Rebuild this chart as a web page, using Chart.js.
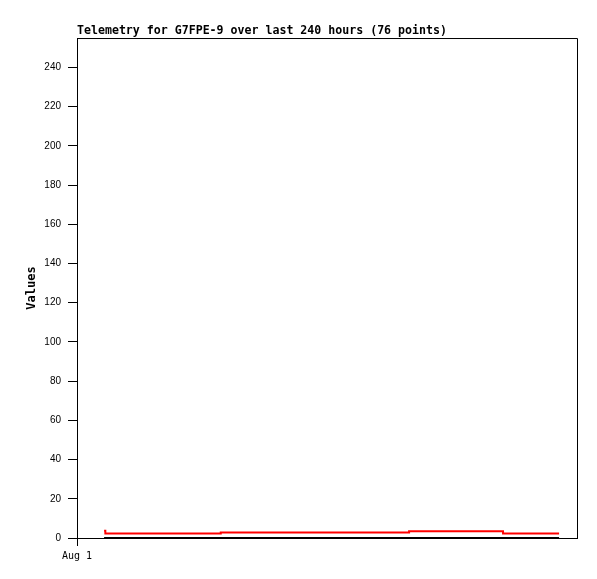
<!DOCTYPE html>
<html>
<head>
<meta charset="utf-8">
<script src="https://cdn.jsdelivr.net/npm/chart.js@4/dist/chart.umd.min.js"></script>
<style>
  html, body { margin: 0; padding: 0; background: #fff; }
  #wrap { width: 597px; height: 579px; }
</style>
</head>
<body>
<div id="wrap"><canvas id="c" width="597" height="579"></canvas></div>
<script>
// Data
const chartTitle = "Telemetry for G7FPE-9 over last 240 hours (76 points)";
const hours = [13, 13.6, 69, 159.4, 204.5, 231.4];
const seriesRed = [3.7, 2.3, 2.8, 3.45, 2.3, 2.3];
const seriesBlack = [0, 0, 0, 0, 0, 0];
const xTickValues = [0];
const xTickLabels = ["Aug 1"];
const yTicks = [0, 20, 40, 60, 80, 100, 120, 140, 160, 180, 200, 220, 240];

const toPoints = (vals) => hours.map((h, i) => ({ x: h, y: vals[i] }));

const framePlugin = {
  id: 'frame',
  afterDraw(chart) {
    const { ctx, chartArea: a } = chart;
    ctx.save();
    ctx.strokeStyle = '#000';
    ctx.lineWidth = 1;
    ctx.beginPath();
    ctx.moveTo(a.left + 0.5, a.top + 0.5);
    ctx.lineTo(a.right + 0.5, a.top + 0.5);
    ctx.lineTo(a.right + 0.5, a.bottom + 0.5);
    ctx.stroke();
    ctx.restore();
  }
};

new Chart(document.getElementById('c'), {
  type: 'line',
  data: {
    datasets: [
      { data: toPoints(seriesBlack), borderColor: '#000', borderWidth: 2, pointRadius: 0, stepped: 'before', order: 2 },
      { data: toPoints(seriesRed), borderColor: '#ff0000', borderWidth: 2, pointRadius: 0, stepped: 'before', order: 1 }
    ]
  },
  plugins: [framePlugin],
  options: {
    responsive: false,
    animation: false,
    layout: { padding: { left: 0, right: 20, top: 0, bottom: 0 } },
    plugins: {
      legend: { display: false },
      tooltip: { enabled: false },
      title: {
        display: true,
        text: chartTitle,
        align: 'start',
        fullSize: false,
        color: '#000',
        font: { family: 'DejaVu Sans Mono', size: 11.6, weight: 'bold' },
        padding: { top: 24, bottom: 0.1 }
      }
    },
    scales: {
      x: {
        type: 'linear',
        min: 0,
        max: 240,
        afterBuildTicks(scale) { scale.ticks = xTickValues.map(v => ({ value: v })); },
        afterFit(scale) { scale.height = 41; },
        ticks: {
          autoSkip: false,
          maxRotation: 0,
          padding: 4,
          color: '#000',
          font: { family: 'DejaVu Sans Mono', size: 10 },
          callback: (v) => { const i = xTickValues.indexOf(v); return i >= 0 ? xTickLabels[i] : ''; }
        },
        grid: { display: true, drawOnChartArea: false, drawTicks: true, tickLength: 8, color: '#000' },
        border: { display: true, color: '#000', width: 1 }
      },
      y: {
        min: 0,
        max: 255,
        afterBuildTicks(scale) { scale.ticks = yTicks.map(v => ({ value: v })); },
        afterFit(scale) { scale.width = 77; },
        ticks: {
          autoSkip: false,
          padding: 7,
          color: '#000',
          font: { family: 'Liberation Sans', size: 10 }
        },
        grid: { display: true, drawOnChartArea: false, drawTicks: true, tickLength: 9, color: '#000' },
        border: { display: true, color: '#000', width: 1 },
        title: {
          display: true,
          text: 'Values',
          color: '#000',
          font: { family: 'DejaVu Sans Mono', size: 12, weight: 'bold' },
          padding: { top: 25, bottom: 0 }
        }
      }
    }
  }
});
</script>
</body>
</html>
